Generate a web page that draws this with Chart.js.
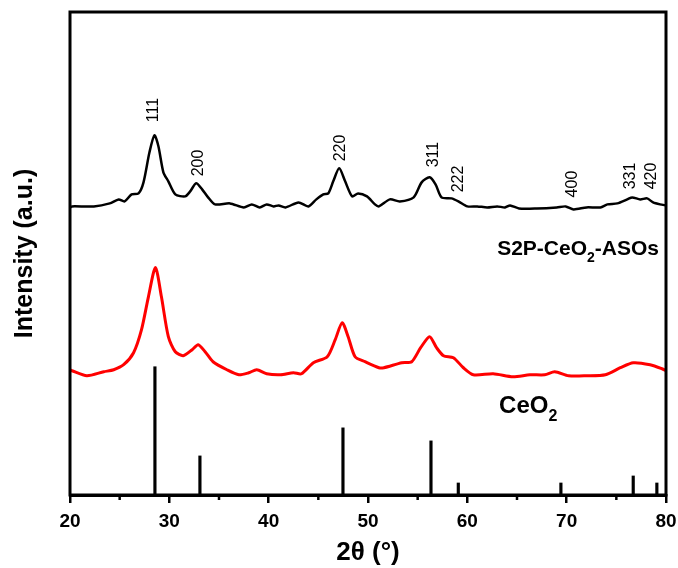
<!DOCTYPE html>
<html>
<head>
<meta charset="utf-8">
<script src="https://cdn.jsdelivr.net/npm/chart.js@4.4.1/dist/chart.umd.min.js"></script>
<style>
  html, body { margin: 0; padding: 0; background: #fff; }
  #wrap { width: 678px; height: 568px; }
</style>
</head>
<body>
<div id="wrap"><canvas id="xrd"></canvas></div>
<script>
// S2P-CeO2-ASOs (black)
const s2pTheta = [20.0, 20.2, 22.4, 24.0, 24.9, 25.5, 26.2, 26.9, 27.4, 28.0, 28.5, 28.9, 29.4, 29.9, 30.6,
  31.6, 32.1, 32.7, 33.3, 33.9, 34.6, 36.1, 37.5, 38.3, 39.1, 39.8, 40.5, 41.0, 41.7, 43.0, 44.0,
  44.8, 45.5, 46.0, 46.5, 47.1, 47.7, 48.4, 49.0, 49.9, 50.7, 51.1, 52.2, 53.2, 54.6, 55.4, 56.2,
  56.8, 57.4, 58.4, 59.1, 60.0, 61.0, 62.0, 63.0, 63.8, 64.3, 65.2, 67.0, 69.0, 69.9, 70.7, 72.0,
  73.4, 74.1, 75.1, 76.1, 76.6, 77.4, 78.1, 78.7, 79.4, 80.0];
const s2pInt = [287, 288, 288, 291, 295, 293, 300, 301, 312, 342, 359, 348, 322, 313, 300,
  298, 303, 311, 305, 297, 290, 291, 287, 290, 287, 290, 288, 289, 287, 292, 288,
  295, 300, 301, 313, 326, 313, 298, 301, 298, 290, 288, 295, 293, 297, 312, 317,
  310, 297, 296, 293, 288, 288, 287, 288, 287, 289, 286, 286, 287, 288, 285, 287,
  287, 290, 291, 295, 297, 295, 296, 292, 290, 289];

// CeO2 (red)
const ceo2Theta = [20.0, 20.2, 21.7, 23.4, 24.4, 25.4, 26.4, 27.2, 27.9, 28.6, 29.2, 29.9, 30.6, 31.4,
  32.3, 32.9, 33.6, 34.4, 35.8, 37.0, 38.0, 38.8, 39.8, 41.2, 42.5, 43.3, 44.5, 45.9, 46.7, 47.4,
  48.0, 48.7, 49.7, 51.1, 51.6, 53.4, 54.4, 55.3, 56.2, 56.9, 57.6, 58.6, 59.6, 60.6, 62.6, 64.6,
  66.3, 67.8, 68.8, 70.2, 72.0, 73.9, 75.4, 76.7, 78.4, 79.6, 80.0];
const ceo2Int = [125, 124, 119, 123, 125, 130, 142, 165, 198, 227, 198, 158, 143, 139,
  145, 150, 143, 133, 125, 120, 122, 125, 121, 120, 122, 121, 132, 138, 155, 172,
  158, 138, 133, 127, 127, 132, 133, 147, 158, 147, 139, 137, 127, 120, 121, 118,
  120, 120, 123, 119, 119, 120, 127, 132, 130, 126, 124];

// reference pattern (sticks)
const refTheta = [28.55, 33.08, 47.48, 56.34, 59.09, 69.42, 76.70, 79.08];
const refInt = [128, 39, 67, 54, 12, 12, 19, 12];

// hkl labels
const hklText = ['111', '200', '220', '311', '222', '400', '331', '420'];
const hklTheta = [28.4, 32.9, 47.2, 56.6, 59.1, 70.6, 76.4, 78.6];
const hklBase = [372, 318, 333, 327, 302, 297, 305, 305];

const xTicks = [20, 30, 40, 50, 60, 70, 80];
const xMinor = [25, 35, 45, 55, 65, 75];

const toXY = (xs, ys) => xs.map((x, i) => ({ x: x, y: ys[i] }));

const decor = {
  id: 'decor',
  afterDraw(chart) {
    const ctx = chart.ctx;
    const a = chart.chartArea;
    const xs = chart.scales.x;
    const ys = chart.scales.y;
    ctx.save();
    // frame
    ctx.strokeStyle = '#000';
    ctx.lineWidth = 3;
    ctx.strokeRect(a.left, a.top, a.right - a.left, a.bottom - a.top);
    // minor ticks
    ctx.lineWidth = 2.5;
    xMinor.forEach(v => {
      const px = xs.getPixelForValue(v);
      ctx.beginPath();
      ctx.moveTo(px, a.bottom);
      ctx.lineTo(px, a.bottom + 5);
      ctx.stroke();
    });
    // hkl labels
    ctx.fillStyle = '#000';
    ctx.font = '16px "Liberation Sans", Arial, sans-serif';
    ctx.textAlign = 'left';
    ctx.textBaseline = 'middle';
    hklText.forEach((t, i) => {
      ctx.save();
      ctx.translate(xs.getPixelForValue(hklTheta[i]), ys.getPixelForValue(hklBase[i]));
      ctx.rotate(-Math.PI / 2);
      ctx.fillText(t, 0, 0);
      ctx.restore();
    });
    // sample labels with subscript
    const label = (parts, x, y, size) => {
      let px = xs.getPixelForValue(x);
      const py = ys.getPixelForValue(y);
      ctx.textBaseline = 'alphabetic';
      parts.forEach(p => {
        const fs = p.sub ? Math.round(size * 0.65) : size;
        ctx.font = 'bold ' + fs + 'px "Liberation Sans", Arial, sans-serif';
        ctx.fillText(p.t, px, py + (p.sub ? Math.round(size * 0.33) : 0));
        px += ctx.measureText(p.t).width;
      });
    };
    label([{ t: 'S2P-CeO' }, { t: '2', sub: true }, { t: '-ASOs' }], 63.0, 240, 21);
    label([{ t: 'CeO' }, { t: '2', sub: true }], 63.2, 82, 24);
    ctx.restore();
  }
};

new Chart(document.getElementById('xrd'), {
  data: {
    datasets: [
      {
        type: 'line',
        label: 'S2P-CeO2-ASOs',
        data: toXY(s2pTheta, s2pInt),
        borderColor: '#000',
        borderWidth: 2.5,
        pointRadius: 0,
        tension: 0.25,
        fill: false
      },
      {
        type: 'line',
        label: 'CeO2',
        data: toXY(ceo2Theta, ceo2Int),
        borderColor: '#ff0000',
        borderWidth: 3,
        pointRadius: 0,
        tension: 0.25,
        fill: false
      },
      {
        type: 'bar',
        label: 'JCPDS',
        data: toXY(refTheta, refInt),
        backgroundColor: '#000',
        barThickness: 2.5
      }
    ]
  },
  options: {
    responsive: true,
    maintainAspectRatio: false,
    animation: false,
    layout: { padding: { top: 12, right: 12, left: 0, bottom: 0 } },
    plugins: {
      legend: { display: false },
      tooltip: { enabled: false }
    },
    scales: {
      x: {
        type: 'linear',
        min: 20,
        max: 80,
        offset: false,
        afterBuildTicks: s => { s.ticks = xTicks.map(v => ({ value: v })); },
        afterFit: s => { s.height = 73; s.paddingLeft = 0; s.paddingRight = 0; },
        ticks: {
          color: '#000',
          padding: 7,
          font: { family: '"Liberation Sans", Arial, sans-serif', size: 19, weight: 'bold' }
        },
        grid: {
          display: true,
          offset: false,
          drawOnChartArea: false,
          drawTicks: true,
          tickLength: 8,
          lineWidth: 2.5,
          color: '#000'
        },
        border: { display: true, width: 3, color: '#000' },
        title: {
          display: true,
          text: '2θ (°)',
          color: '#000',
          padding: { top: 0, bottom: 0 },
          font: { family: '"Liberation Sans", Arial, sans-serif', size: 26, weight: 'bold' }
        }
      },
      y: {
        type: 'linear',
        min: 0,
        max: 482,
        afterFit: s => { s.width = 70; },
        ticks: { display: false },
        grid: { display: false },
        border: { display: false },
        title: {
          display: true,
          text: 'Intensity (a.u.)',
          color: '#000',
          padding: { top: 10, bottom: 0 },
          font: { family: '"Liberation Sans", Arial, sans-serif', size: 25, weight: 'bold' }
        }
      }
    }
  },
  plugins: [decor]
});
</script>
</body>
</html>
